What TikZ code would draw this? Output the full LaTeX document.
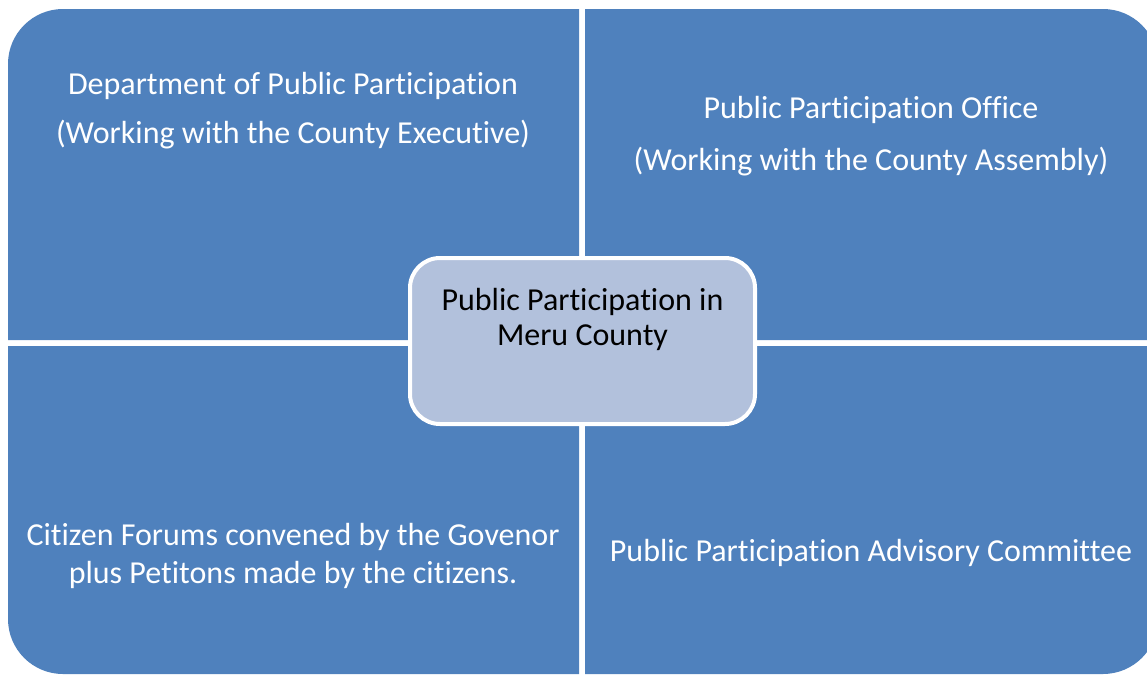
\documentclass[tikz,border=0pt]{standalone}
\usepackage{fontspec}
\setmainfont{Carlito}[Ligatures=NoCommon]
\definecolor{quadblue}{HTML}{4F81BD}
\definecolor{centerfill}{HTML}{B2C1DC}
\begin{document}
\begin{tikzpicture}[x=1pt,y=-1pt,
  quad/.style={fill=quadblue,draw=none},
  qtext/.style={text=white,align=center,inner sep=0pt,font=\fontsize{32}{#1}\selectfont},
  ctext/.style={text=black,align=center,inner sep=0pt,font=\fontsize{32}{35}\selectfont}]
\useasboundingbox (0,0) rectangle (1147,675);
\def\r{55}
% top-left
\fill[quad] (579,340) -- (8,340) -- (8,9+\r) arc[start angle=180,end angle=90,radius=\r pt] -- (579,9) -- cycle;
% top-right
\fill[quad] (585,340) -- (585,9) -- (1158-\r,9) arc[start angle=90,end angle=0,radius=\r pt] -- (1158,340) -- cycle;
% bottom-left
\fill[quad] (579,346) -- (579,674) -- (8+\r,674) arc[start angle=270,end angle=180,radius=\r pt] -- (8,346) -- cycle;
% bottom-right
\fill[quad] (585,346) -- (1158,346) -- (1158,674-\r) arc[start angle=0,end angle=-90,radius=\r pt] -- (585,674) -- cycle;
% texts
\node[qtext=49] (tl) at (293,111) {Department of Public Participation\\(Working with the County Executive)};
\node[qtext=52] (tr) at (871,136) {Public Participation Office\\(Working with the County Assembly)};
\node[qtext=38] (bl) at (293,556) {Citizen Forums convened by the Govenor\\plus Petitons made by the citizens.};
\node[qtext=38] (br) at (871,553) {Public Participation Advisory Committee};
% center
\node[fill=centerfill,draw=white,line width=4pt,rounded corners=30pt,minimum width=345pt,minimum height=166pt,inner sep=0pt] (c) at (582.5,341) {};
\node[ctext] (ct) at (582.5,319) {Public Participation in\\Meru County};
\end{tikzpicture}
\end{document}
